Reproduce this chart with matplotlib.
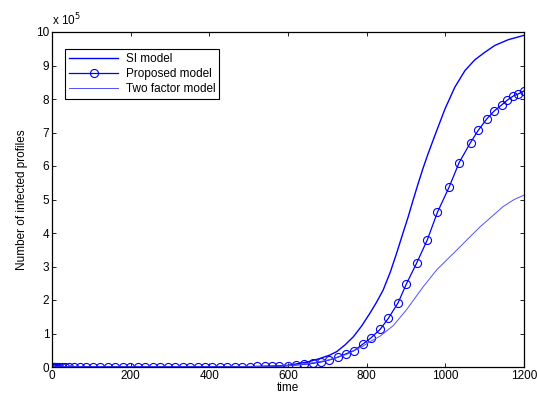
import matplotlib
matplotlib.use("Agg")
import matplotlib.pyplot as plt

plt.rcParams['font.family'] = ['Liberation Sans', 'DejaVu Sans']

# SI model (values in units of 1e5)
si_t = [0, 100, 200, 300, 400, 500, 550, 600, 650, 680, 707, 724, 745, 766,
        787, 808, 825, 842, 860, 876, 891, 906, 918, 931, 943, 955, 974, 999,
        1024, 1050, 1075, 1101, 1126, 1160, 1200]
si_v = [0, 0, 0, 0, 0, 0.01, 0.02, 0.05, 0.15, 0.25, 0.36, 0.46, 0.66, 0.9,
        1.22, 1.6, 1.93, 2.3, 2.83, 3.39, 3.95, 4.5, 4.98, 5.48, 5.92, 6.33, 6.93, 7.7,
        8.35, 8.85, 9.17, 9.4, 9.6, 9.77, 9.9]

# Proposed model (solver output points, drawn with markers)
pm_t = [0, 1, 2, 3, 5, 7, 10, 14, 19, 26, 34, 44, 56, 70, 86, 104, 123, 142,
        161, 180, 199, 218, 237, 256, 275, 294, 313, 332, 351, 370, 389, 408,
        427, 446, 465, 484, 503, 522, 541, 560, 578, 599, 620, 641, 663, 684,
        705, 726, 747, 768, 790, 811, 834, 855, 880, 901, 927, 954, 980, 1010,
        1035, 1064, 1084, 1105, 1124, 1143, 1158, 1173, 1185, 1200]
pm_v = [0, 0, 0, 0, 0, 0, 0, 0, 0, 0, 0, 0, 0, 0, 0, 0, 0, 0,
        0, 0, 0, 0, 0, 0, 0, 0, 0, 0, 0, 0, 0, 0.005,
        0.005, 0.005, 0.01, 0.01, 0.01, 0.015, 0.02, 0.02, 0.03, 0.04, 0.06, 0.08, 0.11, 0.15,
        0.21, 0.29, 0.39, 0.49, 0.68, 0.87, 1.12, 1.45, 1.92, 2.48, 3.10, 3.79, 4.62, 5.38,
        6.10, 6.70, 7.07, 7.40, 7.64, 7.82, 7.97, 8.09, 8.15, 8.24]

# Two factor model
tf_t = [0, 100, 200, 300, 400, 500, 550, 600, 650, 700, 750, 790, 812, 834,
        868, 902, 944, 978, 1029, 1063, 1088, 1147, 1175, 1200]
tf_v = [0, 0, 0, 0, 0, 0.01, 0.02, 0.04, 0.1, 0.2, 0.38, 0.62, 0.78, 0.92,
        1.24, 1.72, 2.4, 2.9, 3.49, 3.89, 4.18, 4.79, 5.0, 5.13]

fig = plt.figure(figsize=(5.37, 4.0), dpi=100)
ax = fig.add_axes([0.0968, 0.0825, 0.879, 0.8375])

ax.plot(si_t, si_v, color='#0000ff', lw=1.0, label='SI model')
ax.plot(pm_t, pm_v, color='#0000ff', lw=0.9, marker='o', markersize=5.8,
        markerfacecolor='none', markeredgewidth=0.8, label='Proposed model')
ax.plot(tf_t, tf_v, color='#5050ff', lw=0.7, label='Two factor model')

ax.set_xlim(0, 1200)
ax.set_ylim(0, 10)
ax.set_xticks(range(0, 1201, 200))
ax.set_yticks(range(0, 11))
ax.tick_params(direction='in', top=True, right=True, labelsize=8.5, length=3,
               width=0.6, pad=2)
for s in ax.spines.values():
    s.set_linewidth(0.9)

ax.set_xlabel("time", fontsize=8.5, labelpad=0)
ax.set_ylabel("Number of infected profiles", fontsize=8.5, labelpad=6)
ax.text(0.0, 1.01, "x 10$^5$", transform=ax.transAxes, fontsize=8.5,
        ha='left', va='bottom')

leg = ax.legend(loc='upper left', bbox_to_anchor=(0.027, 0.95), fontsize=8.5,
                fancybox=False, framealpha=1, edgecolor='black',
                handlelength=4.2, borderpad=0.35, labelspacing=0.25,
                handletextpad=0.6, borderaxespad=0)
leg.get_frame().set_linewidth(0.8)

plt.savefig("out.png", dpi=100)
plt.close()
